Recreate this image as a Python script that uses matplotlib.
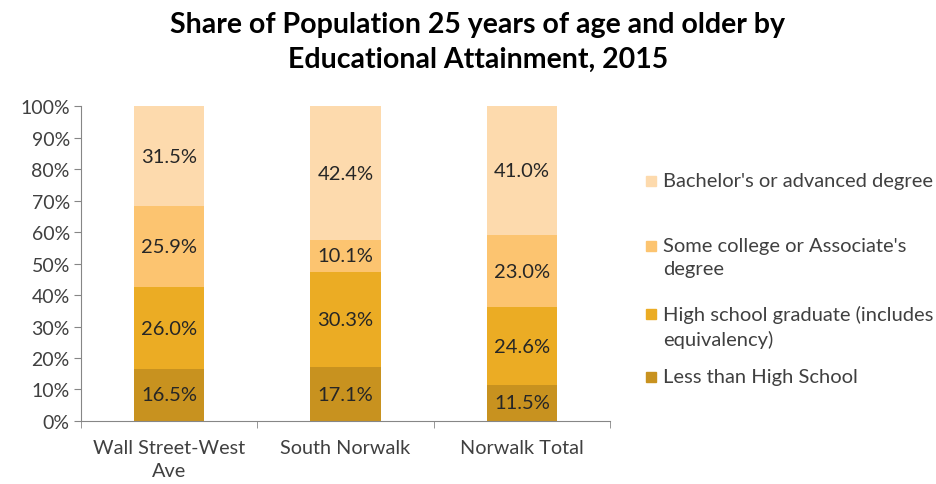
import numpy as np
import matplotlib.pyplot as plt
from matplotlib.patches import Rectangle

plt.rcParams['font.family'] = ['Lato', 'DejaVu Sans']

# data
places = ['Wall Street-West\nAve', 'South Norwalk', 'Norwalk Total']
less_hs = [16.5, 17.1, 11.5]
hs_grad = [26.0, 30.3, 24.6]
some_college = [25.9, 10.1, 23.0]
bachelors = [31.5, 42.4, 41.0]

series = [less_hs, hs_grad, some_college, bachelors]
labels = ['Less than High School',
          'High school graduate (includes\nequivalency)',
          "Some college or Associate's\ndegree",
          "Bachelor's or advanced degree"]
colors = ['#C8921F', '#EBAC24', '#FCC470', '#FDDAAD']

fig = plt.figure(figsize=(9.37, 4.85), dpi=100)
ax = fig.add_axes([0.0864, 0.130, 0.5646, 0.649])

x = np.arange(len(places))
bottom = np.zeros(len(places))
for vals, col in zip(series, colors):
    vals = np.array(vals)
    ax.bar(x, vals, 0.4, bottom=bottom, color=col, linewidth=0)
    for xi, b, v in zip(x, bottom, vals):
        ax.text(xi, b + v / 2, f'{v:.1f}%', ha='center', va='center',
                fontsize=14.5, color='#262626')
    bottom += vals

ax.set_xlim(-0.5, 2.5)
ax.set_ylim(0, 100)
ax.set_yticks(np.arange(0, 101, 10))
ax.set_yticklabels([f'{v}%' for v in range(0, 101, 10)], fontsize=14, color='#404040')
ax.set_xticks(x)
ax.set_xticklabels(places, fontsize=14.3, color='#404040', linespacing=1.45)
ax.set_xticks([-0.5, 0.5, 1.5, 2.5], minor=True)
ax.tick_params(axis='x', which='major', length=0, pad=13)
ax.tick_params(axis='x', which='minor', length=5, color='#868686')
ax.tick_params(axis='y', length=5, color='#868686', pad=3)
for s in ['top', 'right']:
    ax.spines[s].set_visible(False)
for s in ['left', 'bottom']:
    ax.spines[s].set_color('#868686')

fig.text(0.51, 0.975, 'Share of Population 25 years of age and older by\nEducational Attainment, 2015',
         ha='center', va='top', fontsize=20.5, fontweight='bold', color='#000000', linespacing=1.4)

# legend, drawn by hand to match the layout
W, H = 937, 485
leg_y = [378, 315, 247, 182]
for lab, col, yy in zip(labels, colors, leg_y):
    fig.patches.append(Rectangle((646 / W, 1 - (yy + 5) / H), 10 / W, 10 / H,
                                 transform=fig.transFigure, color=col))
    fig.text(663 / W, 1 - (yy - 9) / H if '\n' in lab else 1 - yy / H, lab, ha='left',
             va='top' if '\n' in lab else 'center',
             fontsize=14.5, color='#404040', linespacing=1.45)

fig.savefig('out.png', dpi=100)
